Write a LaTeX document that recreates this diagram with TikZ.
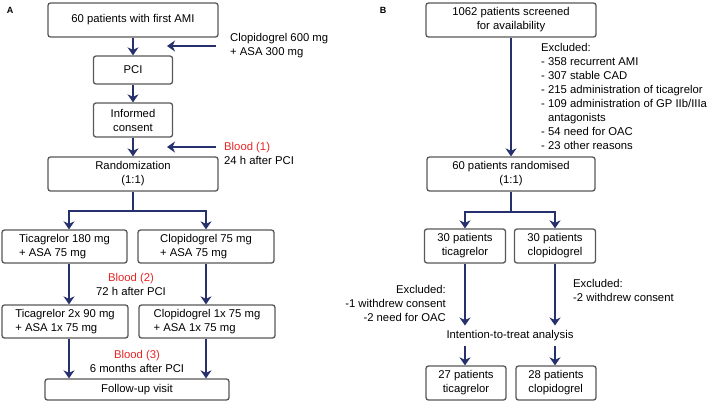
\documentclass[tikz,border=0pt]{standalone}
\usepackage{fontspec}
\setmainfont{Liberation Sans}
\usetikzlibrary{arrows.meta,positioning}
\definecolor{navy}{RGB}{38,48,108}
\definecolor{bloodred}{RGB}{232,36,36}
\definecolor{boxgray}{RGB}{88,88,88}
\tikzstyle{box} = [draw=boxgray,line width=1.3pt,rounded corners=2.5pt,inner sep=1pt,align=center]
\tikzstyle{arrow} = [navy,line width=2pt,-{Stealth[length=8pt,width=11pt,inset=2.5pt]}]
\tikzstyle{txt} = [inner sep=0pt]
\tikzstyle{panel} = [inner sep=0pt,font=\bfseries\fontsize{9}{10}\selectfont]

\begin{document}
\begin{tikzpicture}[x=1pt,y=-1pt,every node/.style={font=\fontsize{11.3}{14}\selectfont}]
\useasboundingbox (0,0) rectangle (709,402);

% panel A
\node[panel] (labA) at (10,10) {A};
\node[box,minimum width=170,minimum height=34] (first) at (133,20) {60 patients with first AMI};
\node[box,minimum width=79,minimum height=28] (pci) at (133,70) {PCI};
\node[box,minimum width=79,minimum height=34] (consent) at (133,120) {Informed\\consent};
\node[box,minimum width=170,minimum height=34] (rand) at (133,174) {Randomization\\(1:1)};
\node[box,align=left,minimum width=125,minimum height=33] (tica1) at (64.5,246.5) {Ticagrelor 180 mg\\+ ASA 75 mg};
\node[box,align=left,minimum width=136,minimum height=33] (clop1) at (206,246.5) {Clopidogrel 75 mg\\+ ASA 75 mg};
\node[box,align=left,minimum width=126,minimum height=33] (tica2) at (65,321.5) {Ticagrelor 2x 90 mg\\+ ASA 1x 75 mg};
\node[box,align=left,minimum width=136,minimum height=33] (clop2) at (207,321.5) {Clopidogrel 1x 75 mg\\+ ASA 1x 75 mg};
\node[box,minimum width=184,minimum height=21] (follow) at (137,389.5) {Follow-up visit};

\node[txt,anchor=north west,align=left] (clopi) at (230,33.5) {Clopidogrel 600 mg\\+ ASA 300 mg};
\node[txt,anchor=north west,align=left] (blood1) at (224,142) {\textcolor{bloodred}{Blood (1)}\\24 h after PCI};
\node[txt,anchor=north,align=center] (blood2) at (131,273.5) {\textcolor{bloodred}{Blood (2)}\\72 h after PCI};
\node[txt,anchor=north,align=center] (blood3) at (137,350.5) {\textcolor{bloodred}{Blood (3)}\\6 months after PCI};

\coordinate (clopistart) at (216,46);
\coordinate (clopitip) at (167,46);
\coordinate (bloodstart) at (216,147);
\coordinate (bloodtip) at (167,147);

\draw[arrow] (first) -- (pci);
\draw[arrow] (pci) -- (consent);
\draw[arrow] (consent) -- (rand);
\draw[arrow] (clopistart) -- (clopitip);
\draw[arrow] (bloodstart) -- (bloodtip);
\draw[arrow] (rand.south) -- ++(0,19) -| ([xshift=4.5]tica1.north);
\draw[arrow] (rand.south) -- ++(0,19) -| (clop1.north);
\draw[arrow] ([xshift=4.5]tica1.south) -- ([xshift=4]tica2.north);
\draw[arrow] (clop1.south) -- ([xshift=-1]clop2.north);
\draw[arrow] ([xshift=4]tica2.south) -- ([xshift=4]tica2.south |- follow.north);
\draw[arrow] ([xshift=-1]clop2.south) -- ([xshift=-1]clop2.south |- follow.north);

% panel B
\node[panel] (labB) at (383,10) {B};
\node[box,minimum width=170,minimum height=34] (screen) at (511,20) {1062 patients screened\\for availability};
\node[box,minimum width=168,minimum height=34] (rand2) at (511,174) {60 patients randomised\\(1:1)};
\node[box,minimum width=81,minimum height=34] (t30) at (465,246) {30 patients\\ticagrelor};
\node[box,minimum width=81,minimum height=34] (c30) at (555,246) {30 patients\\clopidogrel};
\node[box,minimum width=80,minimum height=34] (t27) at (466,383) {27 patients\\ticagrelor};
\node[box,align=left,minimum width=80,minimum height=34] (c28) at (556,383) {28 patients\\clopidogrel};

\node[txt,anchor=north west,align=left] (excl) at (541,43.5) {Excluded:\\- 358 recurrent AMI\\- 307 stable CAD\\- 215 administration of ticagrelor\\- 109 administration of GP IIb/IIIa\\\hphantom{- }antagonists\\- 54 need for OAC\\- 23 other reasons};
\node[txt,anchor=north east,align=right] (exclt) at (446,285.5) {Excluded:\\-1 withdrew consent\\-2 need for OAC};
\node[txt,anchor=north west,align=left] (exclc) at (573,279.5) {Excluded:\\ -2 withdrew consent};
\node[inner xsep=0pt,inner ysep=5pt] (itt) at (510,336) {Intention-to-treat analysis};

\draw[arrow] (screen) -- (rand2);
\draw[arrow] (rand2.south) -- ++(0,20) -| (t30.north);
\draw[arrow] (rand2.south) -- ++(0,20) -| (c30.north);
\draw[arrow] (t30.south) -- (t30.south |- itt.north);
\draw[arrow] (c30.south) -- (c30.south |- itt.north);
\draw[arrow] (itt.south -| t30) -- (t30 |- t27.north);
\draw[arrow] (itt.south -| c30) -- (c30 |- c28.north);

\end{tikzpicture}
\end{document}
